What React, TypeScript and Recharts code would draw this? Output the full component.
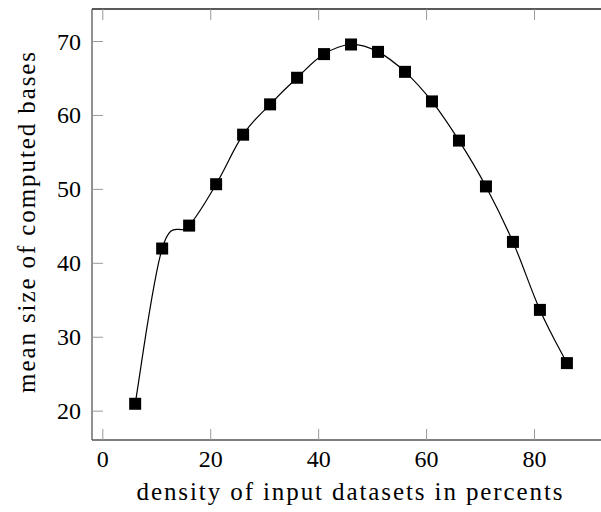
import { LineChart, Line, XAxis, YAxis } from 'recharts';

const density = [6, 11, 16, 21, 26, 31, 36, 41, 46, 51, 56, 61, 66, 71, 76, 81, 86];
const meanSize = [21.0, 42.0, 45.1, 50.7, 57.4, 61.5, 65.1, 68.3, 69.6, 68.6, 65.9, 61.9, 56.6, 50.4, 42.9, 33.7, 26.5];
const xTicks = [0, 20, 40, 60, 80];
const yTicks = [20, 30, 40, 50, 60, 70];

const data = density.map((d, i) => ({ density: d, mean: meanSize[i] }));

const FONT = '"Liberation Serif", "DejaVu Serif", serif';
const TICK_LEN = 11;
const TICK_COLOR = '#9a9a9a';

// cardinal-like smoothing, close to pgfplots "smooth"
const K = 0.55 / 3;
const smoothCurve = (context: any) => {
  let pts: number[][] = [];
  return {
    areaStart() {},
    areaEnd() {},
    lineStart() {
      pts = [];
    },
    point(x: number, y: number) {
      pts.push([+x, +y]);
    },
    lineEnd() {
      if (!pts.length) return;
      context.moveTo(pts[0][0], pts[0][1]);
      for (let i = 0; i < pts.length - 1; i++) {
        const p0 = pts[Math.max(i - 1, 0)];
        const p1 = pts[i];
        const p2 = pts[i + 1];
        const p3 = pts[Math.min(i + 2, pts.length - 1)];
        context.bezierCurveTo(
          p1[0] + (p2[0] - p0[0]) * K,
          p1[1] + (p2[1] - p0[1]) * K,
          p2[0] - (p3[0] - p1[0]) * K,
          p2[1] - (p3[1] - p1[1]) * K,
          p2[0],
          p2[1]
        );
      }
    },
  };
};

const SquareDot = (props: any) => {
  const { cx, cy } = props;
  if (cx == null || cy == null) return null;
  return <rect x={cx - 6} y={cy - 6} width={12} height={12} fill="#000" />;
};

const BottomTick = ({ x, y, payload }: any) => (
  <g>
    <line x1={x} x2={x} y1={y} y2={y - TICK_LEN} stroke={TICK_COLOR} strokeWidth={1} />
    <text x={x} y={y + 27} textAnchor="middle" fontFamily={FONT} fontSize={24} fill="#000">
      {payload.value}
    </text>
  </g>
);

const TopTick = ({ x, y }: any) => (
  <line x1={x} x2={x} y1={y} y2={y + TICK_LEN} stroke={TICK_COLOR} strokeWidth={1} />
);

const LeftTick = ({ x, y, payload }: any) => (
  <g>
    <line x1={x} x2={x + TICK_LEN} y1={y} y2={y} stroke={TICK_COLOR} strokeWidth={1} />
    <text x={x - 11} y={y + 8} textAnchor="end" fontFamily={FONT} fontSize={24} fill="#000">
      {payload.value}
    </text>
  </g>
);

const RightTick = ({ x, y }: any) => (
  <line x1={x} x2={x - TICK_LEN} y1={y} y2={y} stroke={TICK_COLOR} strokeWidth={1} />
);

export default function App() {
  return (
    <div style={{ position: 'absolute', left: 0, top: 0, width: 601, height: 512, overflow: 'hidden', background: '#fff' }}>
      <LineChart
        width={620}
        height={512}
        data={data}
        margin={{ top: 4, right: 6, left: 32, bottom: 32 }}
      >
        <XAxis
          xAxisId="bottom"
          dataKey="density"
          type="number"
          domain={[-2, 93.8]}
          ticks={xTicks}
          height={40}
          tickSize={0}
          tickMargin={0}
          tickLine={false}
          axisLine={{ stroke: '#555', strokeWidth: 1.3 }}
          tick={<BottomTick />}
          interval={0}
          label={{
            value: 'density of input datasets in percents',
            position: 'insideBottom',
            offset: -20,
            style: { fontFamily: FONT, fontSize: 25, letterSpacing: 1.9, fill: '#000' },
          }}
        />
        <XAxis
          xAxisId="top"
          orientation="top"
          dataKey="density"
          type="number"
          domain={[-2, 93.8]}
          ticks={xTicks}
          height={5}
          tickSize={0}
          tickMargin={0}
          tickLine={false}
          axisLine={{ stroke: '#222', strokeWidth: 1.3 }}
          tick={<TopTick />}
          interval={0}
        />
        <YAxis
          yAxisId="left"
          type="number"
          domain={[16.1, 74.4]}
          ticks={yTicks}
          width={60}
          tickSize={0}
          tickMargin={0}
          tickLine={false}
          axisLine={{ stroke: '#555', strokeWidth: 1.3 }}
          tick={<LeftTick />}
          interval={0}
          label={{
            value: 'mean size of computed bases',
            angle: -90,
            position: 'center',
            dx: -36,
            dy: -3,
            style: { fontFamily: FONT, fontSize: 25, letterSpacing: 1.9, fill: '#000', textAnchor: 'middle' },
          }}
        />
        <YAxis
          yAxisId="right"
          orientation="right"
          type="number"
          domain={[16.1, 74.4]}
          ticks={yTicks}
          width={5}
          tickSize={0}
          tickMargin={0}
          tickLine={false}
          axisLine={{ stroke: '#555', strokeWidth: 1.3 }}
          tick={<RightTick />}
          interval={0}
        />
        <Line
          xAxisId="bottom"
          yAxisId="left"
          dataKey="mean"
          type={smoothCurve as any}
          stroke="#000"
          strokeWidth={1.2}
          dot={<SquareDot />}
          activeDot={false}
          isAnimationActive={false}
        />
      </LineChart>
    </div>
  );
}
